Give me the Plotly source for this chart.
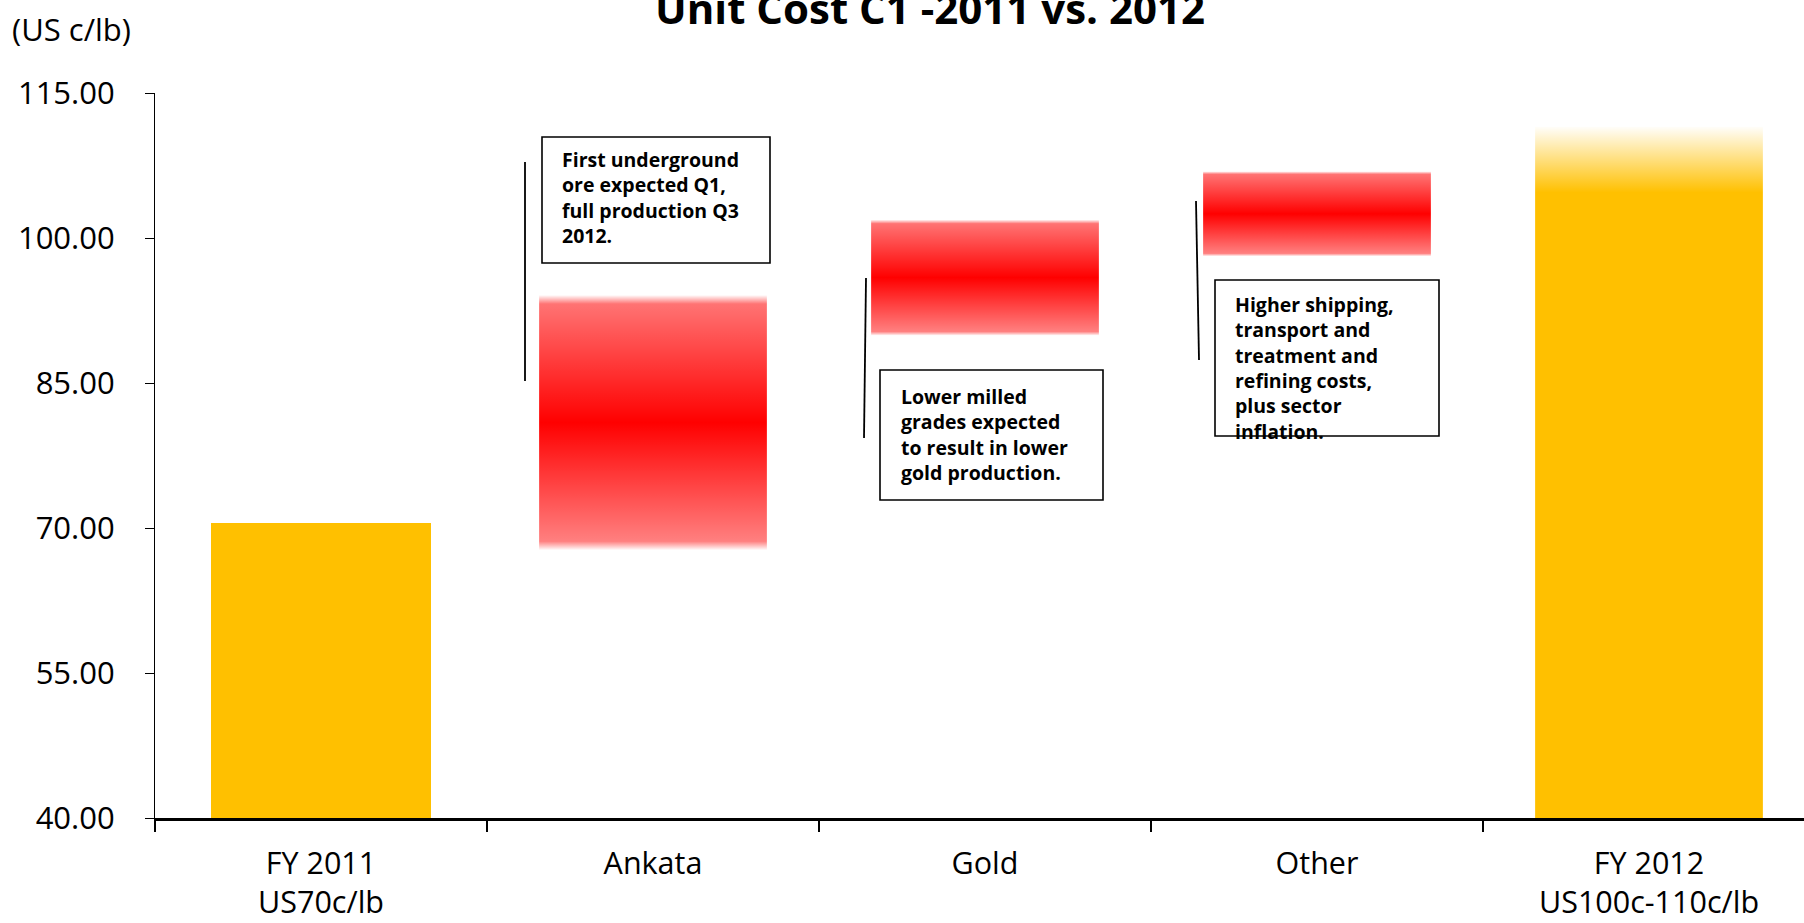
import plotly.graph_objects as go

# ---------------- data ----------------
categories = ["FY 2011<br>US70c/lb", "Ankata", "Gold", "Other", "FY 2012<br>US100c-110c/lb"]
start_value = [70.5]                 # FY 2011 unit cost
step_names = ["Ankata", "Gold", "Other"]
step_low = [67.7, 89.9, 98.1]        # low end of each cost-driver band
step_high = [94.1, 101.9, 106.9]     # high end of each cost-driver band
end_value = [111.5]                  # FY 2012 guidance top
y_ticks = [40, 55, 70, 85, 100, 115]
notes = [
    "First underground<br>ore expected Q1,<br>full production Q3<br>2012.",
    "Lower milled<br>grades expected<br>to result in lower<br>gold production.",
    "Higher shipping,<br>transport and<br>treatment and<br>refining costs,<br>plus sector<br>inflation.",
]

# ---------------- layout constants ----------------
W, H = 1804, 923
ML, MR, MT, MB = 155, 0, 93, 105
CAT_PX = 332.0
Y0, Y1 = y_ticks[0], y_ticks[-1]
X_MIN = -0.5
X_MAX = X_MIN + (W - ML - MR) / CAT_PX
PLOT_H = H - MT - MB

def dx(px):
    return X_MIN + (px - ML) / CAT_PX

def dy(py):
    return Y1 - (py - MT) / PLOT_H * (Y1 - Y0)

FONT = "Open Sans, Noto Sans, sans-serif"
GOLD = "#FFC000"

fig = go.Figure()

# FY 2011 solid bar
fig.add_trace(go.Bar(x=[categories.index(categories[0])], y=start_value, width=0.662,
                     marker=dict(color=GOLD, line=dict(width=0)),
                     hoverinfo="skip", showlegend=False))

red_scale = [[0.0, "rgba(255,0,0,0.0)"], [0.035, "rgba(255,0,0,0.5)"],
             [0.5, "rgba(255,0,0,1.0)"], [0.965, "rgba(255,0,0,0.55)"],
             [1.0, "rgba(255,0,0,0.0)"]]

w = 0.686
for name, lo, hi in zip(step_names, step_low, step_high):
    c = categories.index(name)
    fig.add_trace(go.Scatter(
        x=[c - w / 2, c + w / 2, c + w / 2, c - w / 2, c - w / 2],
        y=[lo, lo, hi, hi, lo],
        mode="lines", fill="toself", line=dict(width=0, color="rgba(0,0,0,0)"),
        fillgradient=dict(type="vertical", start=lo, stop=hi, colorscale=red_scale),
        hoverinfo="skip", showlegend=False))

# FY 2012 bar with faded top
c = len(categories) - 1
lo, hi = Y0, end_value[0]
gold_scale = [[0.0, "rgba(255,192,0,1)"], [0.905, "rgba(255,192,0,1)"],
              [1.0, "rgba(255,192,0,0.02)"]]
fig.add_trace(go.Scatter(
    x=[c - w / 2, c + w / 2, c + w / 2, c - w / 2, c - w / 2],
    y=[lo, lo, hi, hi, lo],
    mode="lines", fill="toself", line=dict(width=0, color="rgba(0,0,0,0)"),
    fillgradient=dict(type="vertical", start=lo, stop=hi, colorscale=gold_scale),
    hoverinfo="skip", showlegend=False))

# ---------------- callouts ----------------
boxes = [(542, 770, 137, 263), (880, 1103, 370, 500), (1215, 1439, 280, 436)]
text_pos = [(560, 144), (899, 381), (1233, 289)]
lines = [(525, 525, 162, 381), (866, 864, 278, 438), (1196, 1199, 201, 360)]

shapes = []
annotations = []
for (x0, x1, y0, y1) in boxes:
    shapes.append(dict(type="rect", xref="x", yref="y", x0=dx(x0), x1=dx(x1),
                       y0=dy(y0), y1=dy(y1), line=dict(color="black", width=1.6),
                       fillcolor="rgba(0,0,0,0)", layer="above"))
for (xa, xb, ya, yb) in lines:
    shapes.append(dict(type="line", xref="x", yref="y", x0=dx(xa), x1=dx(xb),
                       y0=dy(ya), y1=dy(yb), line=dict(color="black", width=1.8)))
for txt, (tx, ty) in zip(notes, text_pos):
    annotations.append(dict(text="<b>" + txt + "</b>", xref="x", yref="y",
                            x=dx(tx), y=dy(ty), xanchor="left", yanchor="top",
                            align="left", showarrow=False,
                            font=dict(family=FONT, size=19.5, color="black")))

# y-axis unit label
annotations.append(dict(text="(US c/lb)", xref="paper", yref="paper",
                        x=(10 - ML) / (W - ML - MR), y=(H - MB - 29) / PLOT_H,
                        xanchor="left", yanchor="middle", showarrow=False,
                        font=dict(family=FONT, size=31, color="black")))

fig.update_layout(
    width=W, height=H,
    margin=dict(l=ML, r=MR, t=MT, b=MB, pad=0, autoexpand=False),
    paper_bgcolor="white", plot_bgcolor="white",
    showlegend=False,
    title=dict(text="<b>Unit Cost C1 -2011 vs. 2012</b>", x=930 / W, xref="container",
               xanchor="center", y=1 - 9 / H, yref="container", yanchor="middle",
               font=dict(family=FONT, size=42, color="black")),
    shapes=shapes, annotations=annotations,
    bargap=0,
)

fig.update_xaxes(
    range=[X_MIN, X_MAX], tickmode="array", automargin=False,
    tickvals=list(range(len(categories))), ticktext=categories,
    ticks="", showgrid=False, zeroline=False,
    showline=True, linecolor="black", linewidth=3,
    ticklabelstandoff=16,
    tickfont=dict(family=FONT, size=30.5, color="black"),
    minor=dict(tickmode="array", tickvals=[i - 0.5 for i in range(len(categories))],
               ticks="outside", ticklen=11, tickwidth=1.6, tickcolor="black", showgrid=False),
)
fig.update_yaxes(
    range=[Y0, Y1], tickmode="array", tickvals=y_ticks, automargin=False,
    ticktext=[f"{v:.2f}" for v in y_ticks],
    ticks="outside", ticklen=9, tickwidth=1.2, tickcolor="black",
    showgrid=False, zeroline=False,
    showline=True, linecolor="black", linewidth=1.2,
    ticklabelstandoff=24,
    tickfont=dict(family=FONT, size=31, color="black"),
)

fig.write_html("out.html")
